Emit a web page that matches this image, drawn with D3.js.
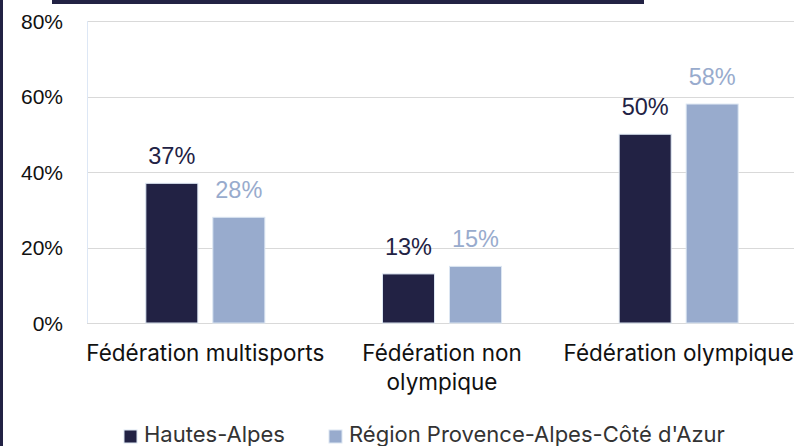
<!DOCTYPE html>
<html>
<head>
<meta charset="utf-8">
<script src="https://cdn.jsdelivr.net/npm/d3@7"></script>
<style>
  html, body { margin: 0; padding: 0; background: #fff; }
  svg { display: block; }
</style>
</head>
<body>
<div id="chart"></div>
<script>
// data
var categories = [["Fédération multisports"], ["Fédération non", "olympique"], ["Fédération olympique"]];
var seriesNames = ["Hautes-Alpes", "Région Provence-Alpes-Côté d'Azur"];
var hautesAlpes = [0.37, 0.13, 0.50];
var regionPaca = [0.28, 0.15, 0.58];
var yTicks = [0, 0.2, 0.4, 0.6, 0.8];

var colors = ["#222244", "#98abcd"];

function init() {
    var w = 794;
    var h = 446;

    var svg = d3.select("#chart")
        .append("svg")
        .attr("width", w)
        .attr("height", h);

    // dark frame pieces
    svg.append("rect").attr("x", 0).attr("y", 0).attr("width", 3).attr("height", h).attr("fill", "#222244");
    svg.append("rect").attr("x", 52).attr("y", 0).attr("width", 592).attr("height", 4).attr("fill", "#222244");

    var catKeys = categories.map(c => c.join(" "));

    var x0 = d3.scaleBand()
        .domain(catKeys)
        .range([87, 797]);

    var x1 = d3.scaleBand()
        .domain(seriesNames)
        .range([0, 119])
        .paddingInner(0.224);

    var groupOffset = (x0.bandwidth() - 119) / 2;

    var y = d3.scaleLinear()
        .domain([0, 0.8])
        .range([323, 21]);

    // gridlines
    svg.append("g")
        .selectAll("line")
        .data(yTicks)
        .enter()
        .append("line")
        .attr("x1", 87)
        .attr("x2", w)
        .attr("y1", d => Math.round(y(d)) + 0.5)
        .attr("y2", d => Math.round(y(d)) + 0.5)
        .attr("stroke", "#d9d9d9")
        .attr("stroke-width", 1.2);

    // light left axis line
    svg.append("line")
        .attr("x1", 87.5).attr("x2", 87.5)
        .attr("y1", y(0.8)).attr("y2", y(0))
        .attr("stroke", "#dde7f5");

    // y axis labels
    var yAxis = d3.axisLeft(y)
        .tickValues(yTicks)
        .tickFormat(d3.format(".0%"))
        .tickSize(0)
        .tickPadding(0);

    var yg = svg.append("g")
        .attr("transform", "translate(63,0)")
        .call(yAxis);
    yg.select(".domain").remove();
    yg.selectAll("text")
        .attr("dy", "0.35em")
        .attr("font-family", "'Liberation Sans', Arial, sans-serif")
        .attr("font-size", 21)
        .attr("fill", "#111");

    // bars
    var rows = catKeys.map((c, i) => ({ cat: c, vals: [hautesAlpes[i], regionPaca[i]] }));

    var groups = svg.append("g")
        .selectAll("g")
        .data(rows)
        .enter()
        .append("g")
        .attr("transform", d => `translate(${x0(d.cat) + groupOffset},0)`);

    groups.selectAll("rect")
        .data(d => d.vals.map((v, j) => ({ s: seriesNames[j], v: v, j: j })))
        .enter()
        .append("rect")
        .attr("x", d => x1(d.s))
        .attr("y", d => y(d.v))
        .attr("width", x1.bandwidth())
        .attr("height", d => y(0) - y(d.v))
        .attr("fill", d => colors[d.j])
        .attr("stroke", "#dce6f2")
        .attr("stroke-width", 1);

    groups.selectAll("text")
        .data(d => d.vals.map((v, j) => ({ s: seriesNames[j], v: v, j: j })))
        .enter()
        .append("text")
        .attr("x", d => x1(d.s) + x1.bandwidth() / 2)
        .attr("y", d => y(d.v) - 19)
        .attr("text-anchor", "middle")
        .attr("font-family", "'Liberation Sans', Arial, sans-serif")
        .attr("font-size", 23.5)
        .attr("fill", d => colors[d.j])
        .text(d => d3.format(".0%")(d.v));

    // category labels
    var catText = svg.append("g")
        .selectAll("text")
        .data(categories)
        .enter()
        .append("text")
        .attr("x", (d, i) => x0(catKeys[i]) + x0.bandwidth() / 2)
        .attr("y", 361)
        .attr("text-anchor", "middle")
        .attr("font-family", "Inter, 'Noto Sans', sans-serif")
        .attr("font-size", 22.5)
        .attr("fill", "#111");

    catText.selectAll("tspan")
        .data(d => d)
        .enter()
        .append("tspan")
        .attr("x", function () { return d3.select(this.parentNode).attr("x"); })
        .attr("dy", (d, i) => i === 0 ? 0 : 29)
        .text(d => d);

    // legend
    var legendX = [124, 329];
    var legend = svg.append("g")
        .selectAll("g")
        .data(seriesNames)
        .enter()
        .append("g")
        .attr("transform", (d, i) => `translate(${legendX[i]},430)`);

    legend.append("rect")
        .attr("width", 13)
        .attr("height", 13)
        .attr("fill", (d, i) => colors[i])
        .attr("stroke", "#dce6f2");

    legend.append("text")
        .attr("x", 20)
        .attr("y", 12)
        .attr("font-family", "Inter, 'Noto Sans', sans-serif")
        .attr("font-size", 22)
        .attr("fill", "#333")
        .text(d => d);
}

window.onload = init;
</script>
</body>
</html>
